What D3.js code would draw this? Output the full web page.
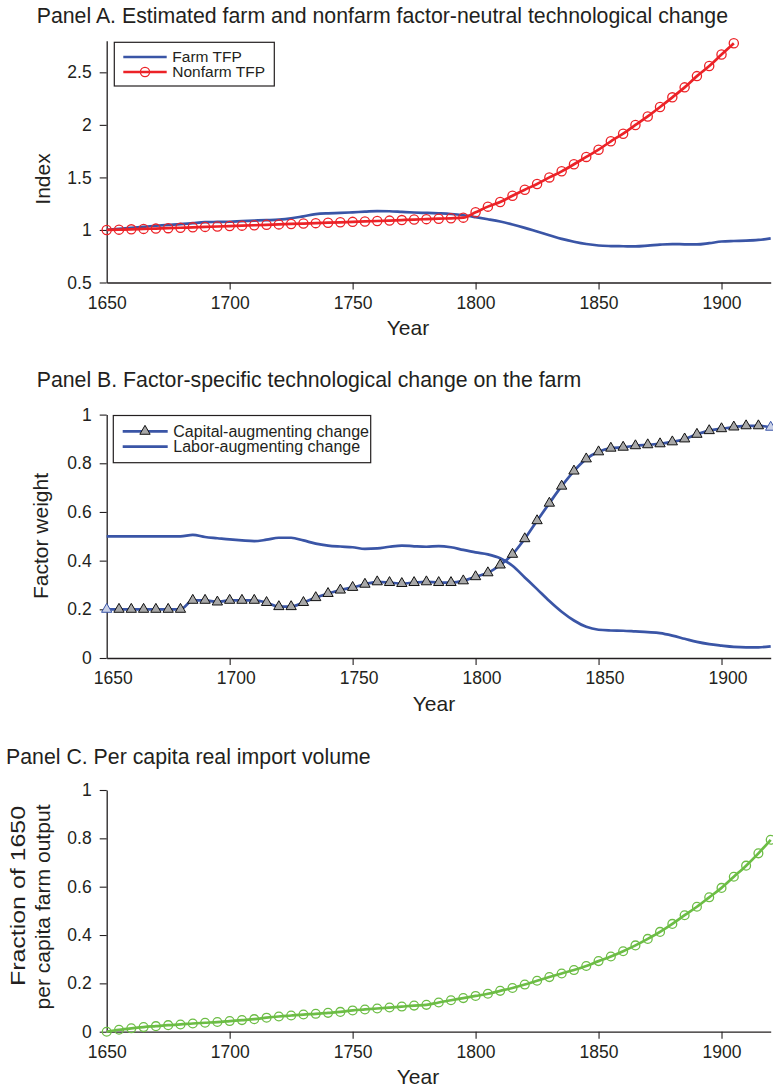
<!DOCTYPE html>
<html>
<head>
<meta charset="utf-8">
<script src="https://cdn.jsdelivr.net/npm/d3@7"></script>
<style>
  html, body { margin: 0; padding: 0; background: #fff; }
  svg text { font-family: "Liberation Sans", Arial, Helvetica, sans-serif; fill: #231f20; }
</style>
</head>
<body>
<svg id="chart" width="773" height="1089"></svg>
<script>
// ---- Data -------------------------------------------------------------
// Panel A: total factor productivity indexes (1650 = 1), 5-year steps
const yearsA = d3.range(1650, 1921, 5);
const farmTFP = [1.000, 1.010, 1.020, 1.030, 1.040, 1.048, 1.055, 1.065, 1.074, 1.076,
  1.078, 1.084, 1.089, 1.093, 1.098, 1.110, 1.130, 1.150, 1.158, 1.162,
  1.168, 1.174, 1.180, 1.178, 1.172, 1.166, 1.162, 1.158, 1.152, 1.140,
  1.122, 1.102, 1.080, 1.052, 1.020, 0.985, 0.950, 0.915, 0.888, 0.866,
  0.852, 0.847, 0.845, 0.843, 0.850, 0.860, 0.866, 0.863, 0.862, 0.874,
  0.890, 0.895, 0.898, 0.905, 0.920];
const yearsNonfarm = d3.range(1650, 1906, 5);
const nonfarmTFP = [1.000, 1.003, 1.006, 1.010, 1.013, 1.017, 1.021, 1.025, 1.029, 1.033,
  1.037, 1.041, 1.045, 1.049, 1.053, 1.057, 1.061, 1.065, 1.069, 1.073,
  1.077, 1.081, 1.085, 1.089, 1.094, 1.099, 1.103, 1.107, 1.111, 1.117,
  1.168, 1.222, 1.266, 1.326, 1.383, 1.437, 1.500, 1.558, 1.625, 1.695,
  1.764, 1.844, 1.916, 1.999, 2.080, 2.170, 2.262, 2.357, 2.464, 2.560,
  2.669, 2.776];

// Panel B: factor weights on the farm
const yearsB = d3.range(1650, 1921, 5);
const capitalWeight = [0.200, 0.200, 0.200, 0.200, 0.200, 0.200, 0.200, 0.237, 0.237, 0.230,
  0.237, 0.237, 0.237, 0.228, 0.211, 0.211, 0.228, 0.248, 0.265, 0.279,
  0.290, 0.303, 0.313, 0.310, 0.306, 0.310, 0.313, 0.310, 0.310, 0.317,
  0.334, 0.350, 0.382, 0.426, 0.490, 0.564, 0.636, 0.706, 0.768, 0.818,
  0.847, 0.862, 0.866, 0.872, 0.876, 0.880, 0.888, 0.900, 0.919, 0.934,
  0.942, 0.949, 0.954, 0.954, 0.948];
const laborWeight = [0.500, 0.500, 0.500, 0.500, 0.500, 0.500, 0.500, 0.506, 0.497, 0.492,
  0.487, 0.483, 0.480, 0.486, 0.494, 0.494, 0.483, 0.470, 0.462, 0.458,
  0.455, 0.448, 0.450, 0.457, 0.462, 0.459, 0.457, 0.460, 0.455, 0.444,
  0.434, 0.426, 0.410, 0.379, 0.331, 0.283, 0.234, 0.190, 0.154, 0.128,
  0.116, 0.113, 0.112, 0.109, 0.106, 0.102, 0.092, 0.079, 0.066, 0.057,
  0.051, 0.046, 0.044, 0.044, 0.048];

// Panel C: per capita real imports, fraction of 1650 per capita farm output
const yearsC = d3.range(1650, 1921, 5);
const importVolume = [0.000, 0.008, 0.014, 0.019, 0.023, 0.027, 0.030, 0.034, 0.037, 0.040,
  0.044, 0.048, 0.052, 0.058, 0.063, 0.067, 0.071, 0.074, 0.078, 0.082,
  0.088, 0.092, 0.096, 0.100, 0.104, 0.108, 0.111, 0.121, 0.130, 0.139,
  0.148, 0.157, 0.169, 0.181, 0.195, 0.211, 0.226, 0.241, 0.255, 0.272,
  0.292, 0.311, 0.333, 0.357, 0.384, 0.413, 0.446, 0.482, 0.517, 0.556,
  0.595, 0.641, 0.687, 0.738, 0.794];

const yearTicks = [1650, 1700, 1750, 1800, 1850, 1900];
const ticksA = [0.5, 1, 1.5, 2, 2.5];
const ticksBC = [0, 0.2, 0.4, 0.6, 0.8, 1];

// ---- Drawing ----------------------------------------------------------
const svg = d3.select("#chart");
const BLUE = "#3a55a6", RED = "#ec2227", GREEN = "#6cbd45", INK = "#231f20";

const x = d3.scaleLinear().domain([1650, 1920]).range([106.7, 770.7]);

function axes(y, ticks, labelDx) {
  const gx = svg.append("g").attr("transform", `translate(0,${y.range()[0]})`)
    .call(d3.axisBottom(x).tickValues(yearTicks).tickFormat(d3.format("d"))
      .tickSize(7).tickPadding(7).tickSizeOuter(0));
  gx.selectAll("text").attr("dx", labelDx);
  const gy = svg.append("g").attr("transform", `translate(${x.range()[0]},0)`)
    .call(d3.axisLeft(y).tickValues(ticks).tickFormat(d => String(d))
      .tickSize(7).tickPadding(8).tickSizeOuter(0));
  [gx, gy].forEach(g => {
    g.select(".domain").attr("stroke", INK).attr("stroke-width", 1.3);
    g.selectAll(".tick line").attr("stroke", INK).attr("stroke-width", 1.1);
    g.selectAll(".tick text").style("font-size", "17.5px").attr("fill", INK);
  });
  gx.selectAll(".tick").filter(d => d === 1650).select("line").remove();
}

function title(txt, tx, ty) {
  svg.append("text").attr("x", tx).attr("y", ty).style("font-size", "21.3px").text(txt);
}
function xLabel(cx, by) {
  svg.append("text").attr("x", cx).attr("y", by).attr("text-anchor", "middle")
    .style("font-size", "21px").text("Year");
}
// lines: [text, baseline x, centre y, stretched length or null]
function yLabel(lines) {
  lines.forEach(([txt, bx, cy, len]) => {
    const t = svg.append("text").attr("transform", `translate(${bx},${cy}) rotate(-90)`)
      .attr("text-anchor", "middle").style("font-size", "21px").text(txt);
    if (len) t.attr("textLength", len).attr("lengthAdjust", "spacingAndGlyphs");
  });
}
const curve = d3.curveMonotoneX;
const lineGen = d3.line().curve(curve);

// Panel A
const yA = d3.scaleLinear().domain([0.5, 2.8]).range([282.5, 40.8]);
title("Panel A. Estimated farm and nonfarm factor-neutral technological change", 36.7, 23);
axes(yA, ticksA, 0);
xLabel(408, 335);
yLabel([["Index", 50, 179, null]]);

svg.append("path").attr("fill", "none").attr("stroke", BLUE).attr("stroke-width", 2.7)
  .attr("d", lineGen(yearsA.map((yr, i) => [x(yr), yA(farmTFP[i])])));
svg.append("path").attr("fill", "none").attr("stroke", RED).attr("stroke-width", 2.7)
  .attr("d", lineGen(yearsNonfarm.map((yr, i) => [x(yr), yA(nonfarmTFP[i])])));
svg.append("g").selectAll("circle").data(yearsNonfarm).join("circle")
  .attr("cx", d => x(d)).attr("cy", (d, i) => yA(nonfarmTFP[i])).attr("r", 4.6)
  .attr("fill", "none").attr("stroke", RED).attr("stroke-width", 1.3);

// Legend A
const legA = svg.append("g");
legA.append("rect").attr("x", 114.3).attr("y", 42.3).attr("width", 160).attr("height", 43.7)
  .attr("fill", "#fff").attr("stroke", INK).attr("stroke-width", 1.2);
legA.append("line").attr("x1", 123.3).attr("x2", 166.7).attr("y1", 57).attr("y2", 57)
  .attr("stroke", BLUE).attr("stroke-width", 2.7);
legA.append("line").attr("x1", 123.3).attr("x2", 166.7).attr("y1", 72).attr("y2", 72)
  .attr("stroke", RED).attr("stroke-width", 2.7);
legA.append("circle").attr("cx", 145).attr("cy", 72).attr("r", 4.6)
  .attr("fill", "none").attr("stroke", RED).attr("stroke-width", 1.3);
legA.append("text").attr("x", 172.3).attr("y", 62.4).style("font-size", "15.5px").text("Farm TFP");
legA.append("text").attr("x", 172.3).attr("y", 77.4).style("font-size", "15.5px").text("Nonfarm TFP");

// Panel B
const yB = d3.scaleLinear().domain([0, 1]).range([658, 414.6]);
title("Panel B. Factor-specific technological change on the farm", 36.7, 387);
axes(yB, ticksBC, 6);
xLabel(434, 711);
yLabel([["Factor weight", 48, 536, null]]);

svg.append("path").attr("fill", "none").attr("stroke", BLUE).attr("stroke-width", 2.7)
  .attr("d", lineGen(yearsB.map((yr, i) => [x(yr), yB(laborWeight[i])])));
svg.append("path").attr("fill", "none").attr("stroke", BLUE).attr("stroke-width", 2.7)
  .attr("d", lineGen(yearsB.map((yr, i) => [x(yr), yB(capitalWeight[i])])));
const tri = d3.symbol().type(d3.symbolTriangle).size(46);
const last = yearsB.length - 1;
svg.append("g").selectAll("path").data(yearsB).join("path")
  .attr("transform", (d, i) => `translate(${x(d)},${yB(capitalWeight[i])})`)
  .attr("d", tri)
  .attr("fill", (d, i) => (i === 0 || i === last) ? "#c9d0e6" : "#a8a8a8")
  .attr("stroke", (d, i) => (i === 0 || i === last) ? BLUE : "#111")
  .attr("stroke-width", 1);

// Legend B
const legB = svg.append("g");
legB.append("rect").attr("x", 113.3).attr("y", 415.5).attr("width", 257.4).attr("height", 47.2)
  .attr("fill", "#fff").attr("stroke", INK).attr("stroke-width", 1.2);
legB.append("line").attr("x1", 122.7).attr("x2", 167.7).attr("y1", 431.3).attr("y2", 431.3)
  .attr("stroke", BLUE).attr("stroke-width", 2.7);
legB.append("path").attr("transform", "translate(145,431.3)").attr("d", tri)
  .attr("fill", "#a8a8a8").attr("stroke", "#111").attr("stroke-width", 1);
legB.append("line").attr("x1", 122.7).attr("x2", 167.7).attr("y1", 446.7).attr("y2", 446.7)
  .attr("stroke", BLUE).attr("stroke-width", 2.7);
legB.append("text").attr("x", 173.3).attr("y", 437).style("font-size", "16px").text("Capital-augmenting change");
legB.append("text").attr("x", 173.3).attr("y", 452.4).style("font-size", "16px").text("Labor-augmenting change");

// Panel C
const yC = d3.scaleLinear().domain([0, 1]).range([1031.7, 790]);
title("Panel C. Per capita real import volume", 6, 764);
axes(yC, ticksBC, 0);
xLabel(418, 1084);
yLabel([["Fraction of 1650", 25, 896, 180], ["per capita farm output", 50, 907, 205]]);

svg.append("path").attr("fill", "none").attr("stroke", GREEN).attr("stroke-width", 2.7)
  .attr("d", lineGen(yearsC.map((yr, i) => [x(yr), yC(importVolume[i])])));
svg.append("g").selectAll("circle").data(yearsC).join("circle")
  .attr("cx", d => x(d)).attr("cy", (d, i) => yC(importVolume[i])).attr("r", 4.4)
  .attr("fill", "none").attr("stroke", GREEN).attr("stroke-width", 1.3);
</script>
</body>
</html>
